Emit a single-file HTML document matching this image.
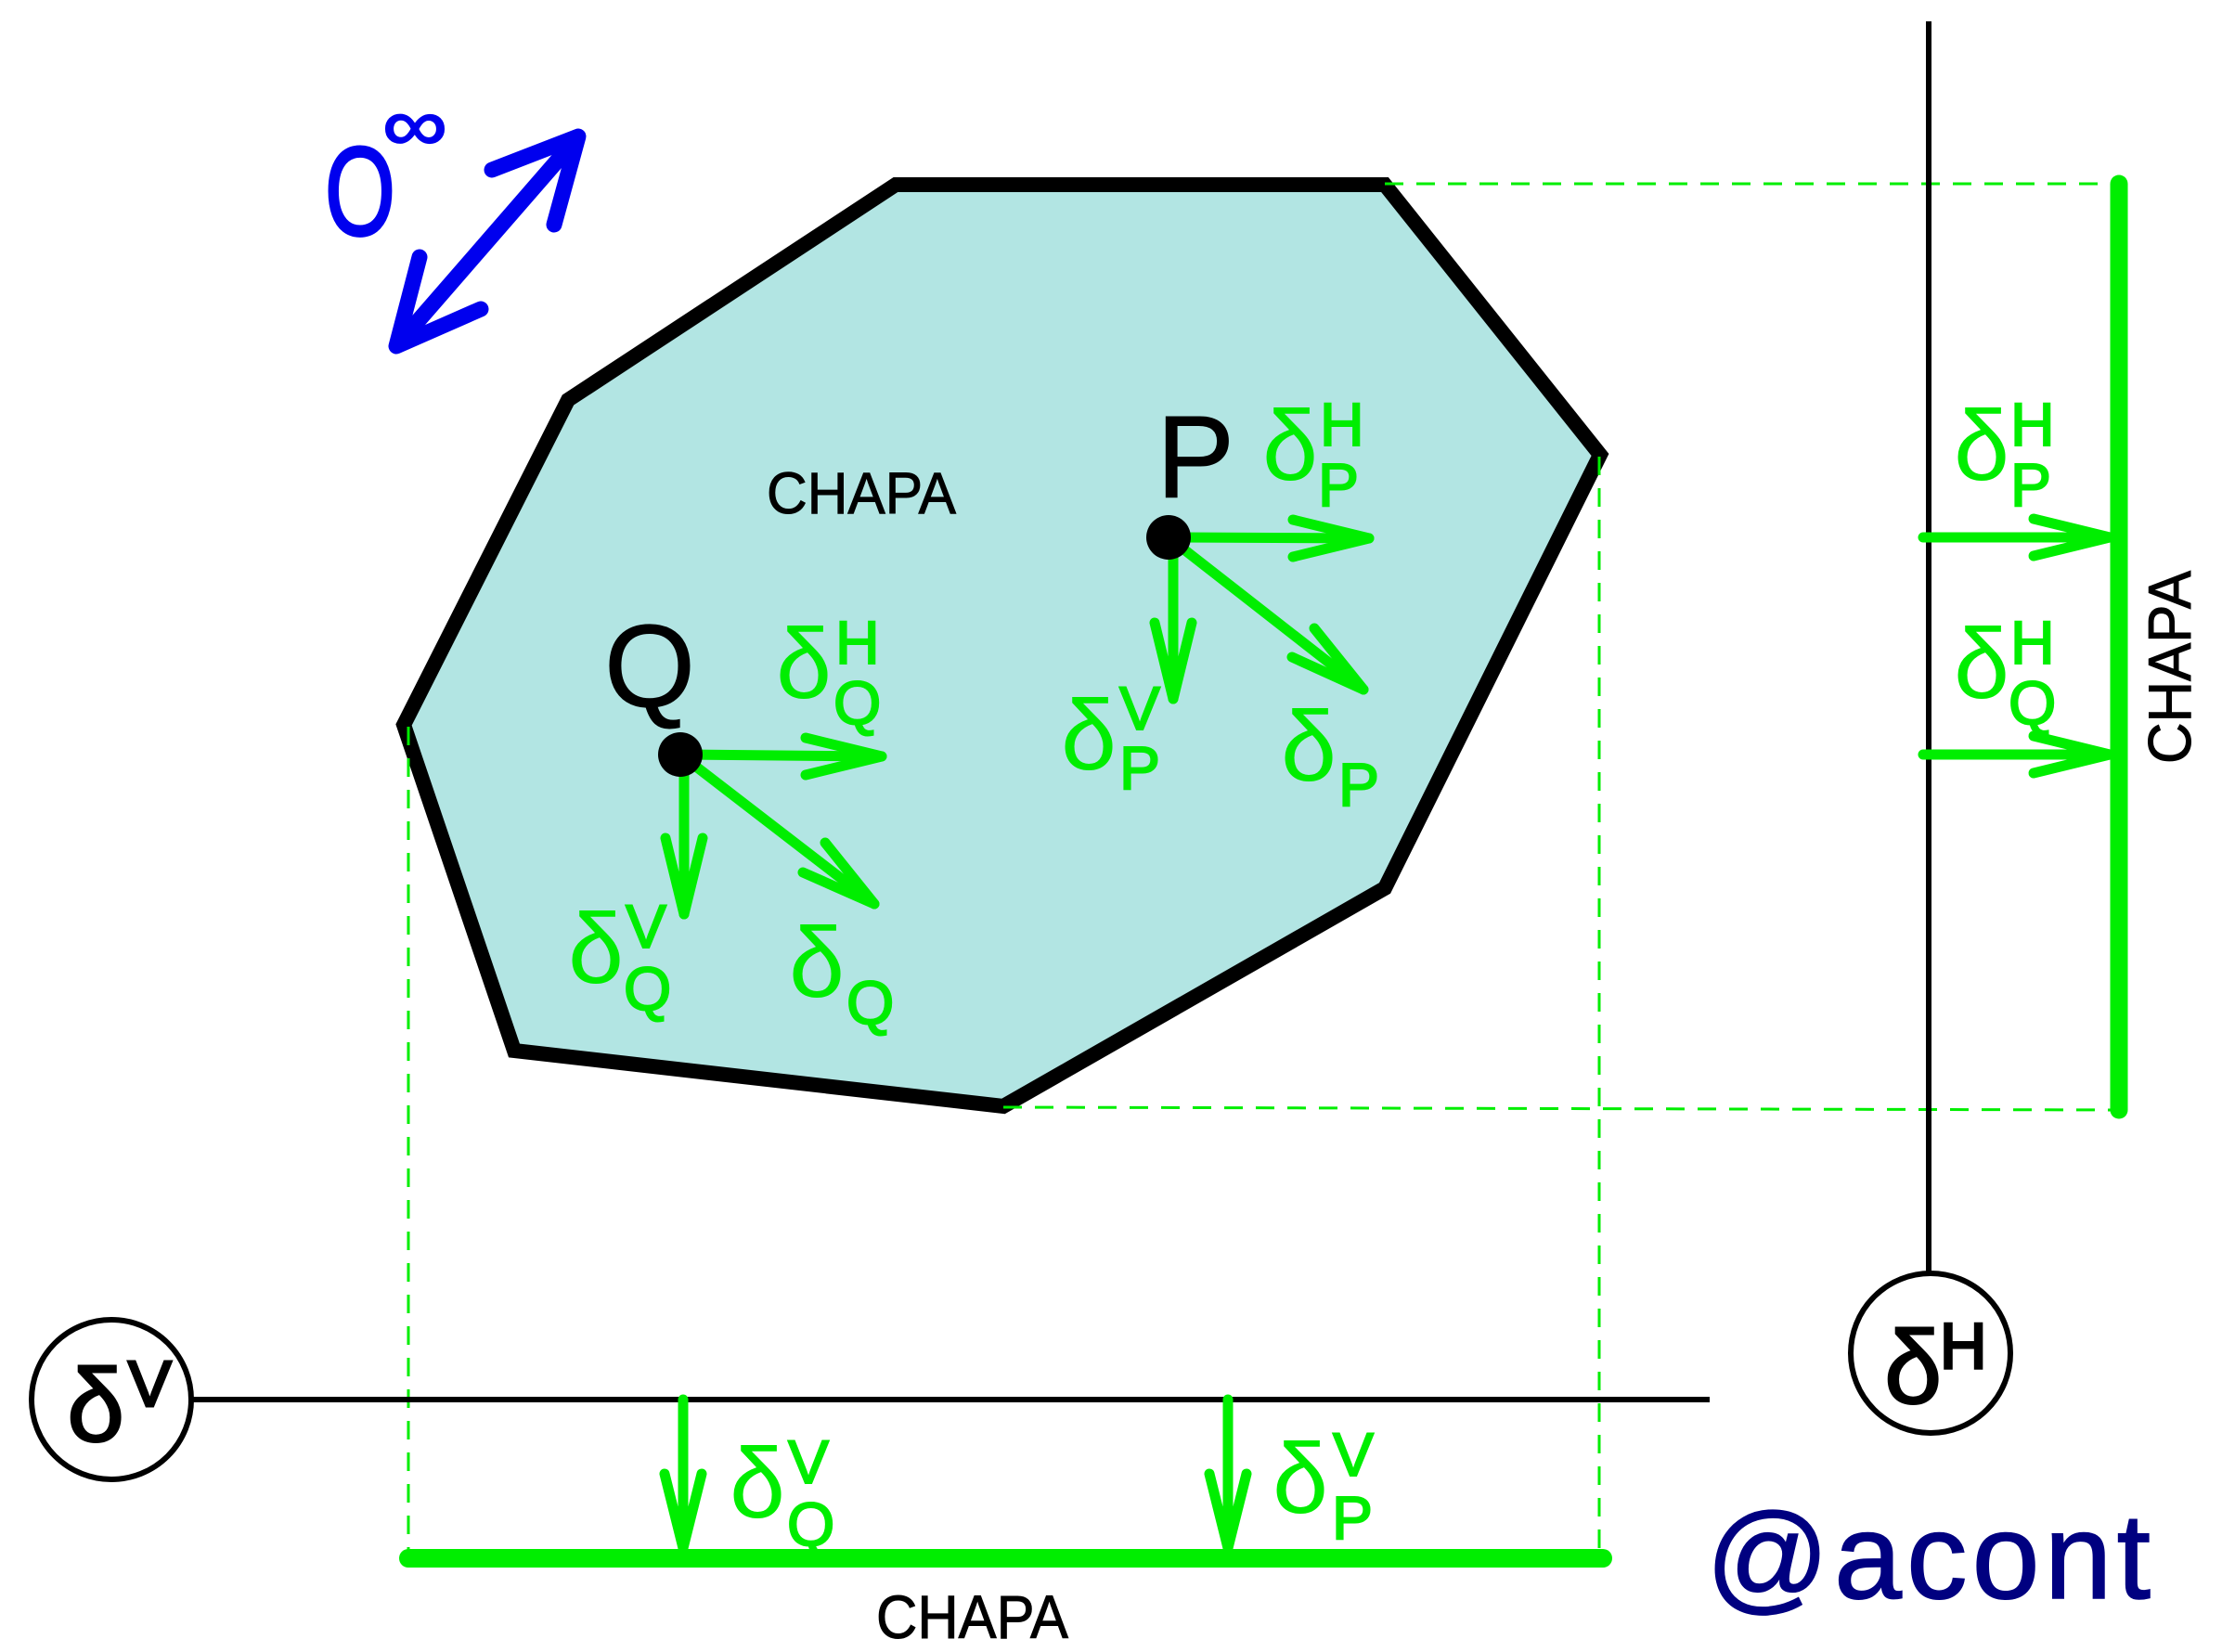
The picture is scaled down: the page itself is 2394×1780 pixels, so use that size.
<!DOCTYPE html>
<html><head><meta charset="utf-8"><style>html,body{margin:0;padding:0;background:#fff}svg{display:block}</style></head>
<body>
<svg width="2394" height="1780" viewBox="0 0 2394 1780" xmlns="http://www.w3.org/2000/svg" font-family="Liberation Sans, DejaVu Sans, sans-serif">
<rect width="2394" height="1780" fill="#fff"/>
<polygon points="965,199 1492,199 1724,490 1492,957 1081,1192 554,1132 435,781 612,431" fill="#b2e5e3" stroke="#000" stroke-width="16" stroke-linejoin="miter"/>
<g stroke="#00ee00" stroke-width="3" stroke-dasharray="20,14" fill="none">
<line x1="1492" y1="198" x2="2283" y2="198"/>
<line x1="1081" y1="1193" x2="2283" y2="1196"/>
<line x1="440" y1="783" x2="440" y2="1678"/>
<line x1="1723" y1="492" x2="1723" y2="1678"/>
</g>
<line x1="2078" y1="23" x2="2078" y2="1371" stroke="#000" stroke-width="6"/>
<circle cx="2080" cy="1458" r="86" fill="#fff" stroke="#000" stroke-width="6"/>
<line x1="208" y1="1508" x2="1842" y2="1508" stroke="#000" stroke-width="6"/>
<circle cx="120" cy="1508" r="86" fill="#fff" stroke="#000" stroke-width="6"/>
<line x1="2283" y1="198" x2="2283" y2="1196" stroke="#00ee00" stroke-width="19" stroke-linecap="round"/>
<line x1="440" y1="1679" x2="1727" y2="1679" stroke="#00ee00" stroke-width="20" stroke-linecap="round"/>
<g stroke="#00ee00" stroke-width="11" stroke-linecap="round" stroke-linejoin="round" fill="none">
<line x1="733" y1="813" x2="950" y2="815"/><polyline points="868,795 950,815 868,835"/>
<line x1="737" y1="813" x2="737" y2="985"/><polyline points="717,903 737,985 757,903"/>
<line x1="733" y1="813" x2="942" y2="974"/><polyline points="865,940 942,974 889,908"/>
<line x1="1259" y1="579" x2="1475" y2="580"/><polyline points="1393,560 1475,580 1393,600"/>
<line x1="1264" y1="579" x2="1264" y2="753"/><polyline points="1244,671 1264,753 1284,671"/>
<line x1="1259" y1="579" x2="1469" y2="743"/><polyline points="1392,708 1469,743 1416,677"/>
<line x1="2072" y1="579" x2="2273" y2="579"/><polyline points="2191,559 2273,579 2191,599"/>
<line x1="2072" y1="813" x2="2273" y2="813"/><polyline points="2191,793 2273,813 2191,833"/>
<line x1="736" y1="1508" x2="736" y2="1668"/><polyline points="716,1588 736,1668 756,1588"/>
<line x1="1323" y1="1508" x2="1323" y2="1668"/><polyline points="1303,1588 1323,1668 1343,1588"/>
</g>
<circle cx="733" cy="813" r="24" fill="#000"/>
<circle cx="1259" cy="579" r="24" fill="#000"/>
<g stroke="#0000ee" stroke-width="17" stroke-linecap="round" stroke-linejoin="round" fill="none">
<line x1="432" y1="367" x2="618" y2="153"/>
<polyline points="452,277 427,373 518,333"/>
<polyline points="530,183 623,147 597,242"/>
</g>
<text x="350" y="253" font-size="136" fill="#0000ee" stroke="#0000ee" stroke-width="3" textLength="76" lengthAdjust="spacingAndGlyphs">O</text>
<text x="412" y="162" font-size="80" fill="#0000ee" stroke="#0000ee" stroke-width="2" textLength="70" lengthAdjust="spacingAndGlyphs">∞</text>
<g fill="#000" stroke="#000" stroke-width="1">
<text x="826" y="553" font-size="63" textLength="204" lengthAdjust="spacingAndGlyphs">CHAPA</text>
<text x="944" y="1765" font-size="66" textLength="207" lengthAdjust="spacingAndGlyphs">CHAPA</text>
<text transform="translate(2360,823) rotate(-90)" x="0" y="0" font-size="65" textLength="208" lengthAdjust="spacingAndGlyphs">CHAPA</text>
</g>
<text x="651" y="761" font-size="126" fill="#000" stroke="#000" stroke-width="1">Q</text>
<text x="1246" y="536" font-size="126" fill="#000" stroke="#000" stroke-width="1">P</text>
<text x="1838" y="1722" font-size="131" fill="#000080" stroke="#000080" stroke-width="1.5" textLength="479" lengthAdjust="spacing">@acont</text>
<g fill="#00ee00">
<g font-size="108">
<text x="1360" y="517">δ</text>
<text x="836" y="752">δ</text>
<text x="1143" y="829">δ</text>
<text x="1380" y="841">δ</text>
<text x="612" y="1059">δ</text>
<text x="850" y="1074">δ</text>
<text x="2105" y="517">δ</text>
<text x="2105" y="752">δ</text>
<text x="786" y="1635">δ</text>
<text x="1371" y="1630">δ</text>
</g>
<g font-size="66" stroke="#00ee00" stroke-width="2">
<text x="1422" y="480">H</text><text x="1420" y="545">P</text>
<text x="900" y="715">H</text><text x="898" y="780">Q</text>
<text x="1206" y="786">V</text><text x="1206" y="850">P</text>
<text x="1442" y="868">P</text>
<text x="674" y="1021">V</text><text x="672" y="1088">Q</text>
<text x="912" y="1103">Q</text>
<text x="2166" y="480">H</text><text x="2166" y="545">P</text>
<text x="2166" y="715">H</text><text x="2164" y="780">Q</text>
<text x="849" y="1598">V</text><text x="848" y="1665">Q</text>
<text x="1436" y="1590">V</text><text x="1435" y="1658">P</text>
</g>
</g>
<g fill="#000">
<text x="72" y="1553" font-size="112" stroke="#000" stroke-width="2">δ</text>
<text x="138" y="1515" font-size="70" stroke="#000" stroke-width="3">V</text>
<text x="2030" y="1512" font-size="112" stroke="#000" stroke-width="2">δ</text>
<text x="2090" y="1474" font-size="70" stroke="#000" stroke-width="3">H</text>
</g>
</svg>
</body></html>
